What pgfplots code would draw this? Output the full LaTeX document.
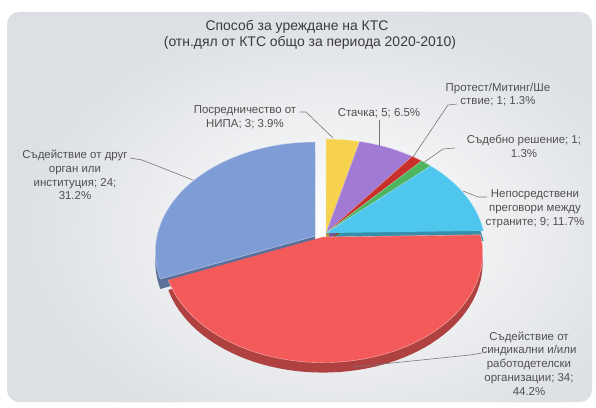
\documentclass[border=0pt]{standalone}
\usepackage{pgfplots}
\pgfplotsset{compat=1.18}
\usepackage{fontspec}
\setmainfont{Liberation Sans}
\definecolor{cYel}{HTML}{F6D24E}
\definecolor{cPur}{HTML}{A07AD4}
\definecolor{cPro}{HTML}{C9302C}
\definecolor{cGrn}{HTML}{4DB55E}
\definecolor{cCya}{HTML}{4EC6EE}
\definecolor{cRed}{HTML}{F45A5A}
\definecolor{cBlu}{HTML}{7E9CD6}
\definecolor{panel}{HTML}{DCDFE3}
\definecolor{lab}{HTML}{505050}
\definecolor{ttl}{HTML}{3A3A3A}
\definecolor{lead}{HTML}{777777}
% values: Посредничество, Стачка, Протест, Съдебно, Непосредствени, Синдикални, Друг орган
\pgfmathsetmacro\tot{3+5+1+1+9+34+24}
\pgfmathsetmacro\aA{90}
\pgfmathsetmacro\aB{\aA-360*3/\tot}
\pgfmathsetmacro\aC{\aB-360*5/\tot}
\pgfmathsetmacro\aD{\aC-360*1/\tot}
\pgfmathsetmacro\aE{\aD-360*1/\tot}
\pgfmathsetmacro\aF{\aE-360*9/\tot}
\pgfmathsetmacro\aG{\aF-360*34/\tot}
\pgfmathsetmacro\aH{\aG-360*24/\tot}
% #1 apex x, #2 apex y, #3 start, #4 end, #5 colour
\newcommand\slice[5]{%
  \addplot[fill=#5!72!black, draw=none, domain=#4:#3, samples=60]
     ({#1+PX(x)},{#2-10+PY(x)}) -- (axis cs:#1,#2-10);
  \addplot[fill=#5, draw=white!55!#5, line width=0.4pt, domain=#4:#3, samples=60]
     ({#1+PX(x)},{#2+PY(x)}) -- (axis cs:#1,#2);
}
\begin{document}
\begin{tikzpicture}
\begin{axis}[x=1bp, y=1bp, xmin=0, xmax=596, ymin=0, ymax=407,
  hide axis, clip=false, scale only axis,
  declare function={PX(\t)=158*cos(\t)/(1+0.144*sin(\t));
                    PY(\t)=107.5*sin(\t)/(1+0.144*sin(\t));},
  leader/.style={draw=lead, line width=0.6pt, mark=none},
  every node/.style={inner sep=0pt}]
\fill[white] (axis cs:0,0) rectangle (axis cs:596,407);
\fill[panel, rounded corners=12bp] (axis cs:7,5) rectangle (axis cs:592,395);
\begin{scope}
\clip[rounded corners=12bp] (axis cs:7,5) rectangle (axis cs:592,395);
\shade[inner color=white, outer color=panel] (axis cs:340,175) ellipse [x radius=330bp, y radius=230bp];
\end{scope}
% slices
\slice{326}{174}{\aA}{\aB}{cYel}
\slice{326}{174}{\aB}{\aC}{cPur}
\slice{326}{174}{\aC}{\aD}{cPro}
\slice{326}{174}{\aD}{\aE}{cGrn}
\slice{326}{174}{\aE}{\aF}{cCya}
\slice{315}{171}{\aG}{\aH}{cBlu}
\slice{323}{170}{\aF}{\aG}{cRed}
% leaders
\addplot[leader] coordinates {(130,249) (142,247) (193,227)};
\addplot[leader] coordinates {(300,295) (306,295) (333,269)};
\addplot[leader] coordinates {(379,287) (379,261)};
\addplot[leader] coordinates {(457,303) (448,302) (413,250)};
\addplot[leader] coordinates {(455,259) (443,258) (423,244)};
\addplot[leader] coordinates {(487,210) (478,210) (463,216)};
\addplot[leader] coordinates {(482,54) (470,52) (353,40)};
% labels
\begin{scope}[every node/.append style={align=center, text=lab, font=\fontsize{11.5}{13.8}\selectfont}]
\node at (axis cs:75,232) {Съдействие от друг\\орган или\\институция; 24;\\31.2\%};
\node at (axis cs:245,289.5) {Посредничество от\\НИПА; 3; 3.9\%};
\node at (axis cs:379,294) {Стачка; 5; 6.5\%};
\node at (axis cs:498,312.5) {Протест/Митинг/Ше\\ствие; 1; 1.3\%};
\node at (axis cs:524,260.5) {Съдебно решение; 1;\\1.3\%};
\node at (axis cs:535,198.5) {Непосредствени\\преговори между\\страните; 9; 11.7\%};
\node at (axis cs:529,43.5) {Съдействие от\\синдикални и/или\\работодетелски\\организации; 34;\\44.2\%};
\end{scope}
\node[text=ttl, font=\fontsize{14}{16}\selectfont] at (axis cs:297,380) {Способ за уреждане на КТС};
\node[text=ttl, font=\fontsize{14}{16}\selectfont] at (axis cs:310,364) {(отн.дял от КТС общо за периода 2020-2010)};
\end{axis}
\end{tikzpicture}
\end{document}
